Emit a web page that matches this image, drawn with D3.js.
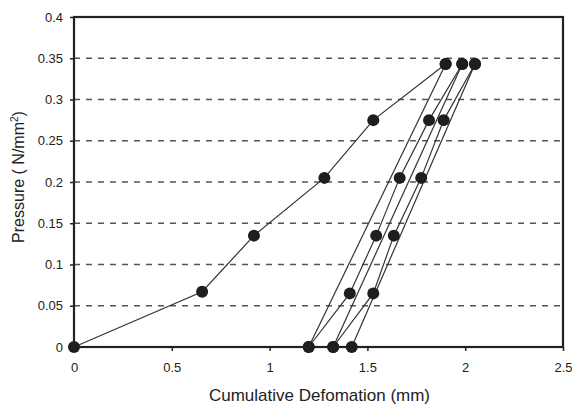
<!DOCTYPE html>
<html><head><meta charset="utf-8">
<script src="https://cdn.jsdelivr.net/npm/d3@7"></script>
<style>
html,body{margin:0;padding:0;background:#fff;}
svg{display:block;font-family:"Liberation Sans",Arial,sans-serif;}
</style></head>
<body>
<svg id="chart" width="572" height="411"></svg>
<script>
// ---- data ----
const xTicks = [0, 0.5, 1, 1.5, 2, 2.5];
const yTicks = [0, 0.05, 0.1, 0.15, 0.2, 0.25, 0.3, 0.35, 0.4];
const gridValues = [0.05, 0.1, 0.15, 0.2, 0.25, 0.3, 0.35];

const loadX   = [0, 0.655, 0.92, 1.28, 1.53, 1.90];
const loadY   = [0, 0.067, 0.135, 0.205, 0.275, 0.343];
const unload1X = [1.90, 1.20];
const unload1Y = [0.343, 0];
const reload1X = [1.20, 1.41, 1.545, 1.665, 1.815, 1.985];
const reload1Y = [0, 0.065, 0.135, 0.205, 0.275, 0.343];
const unload2X = [1.985, 1.325];
const unload2Y = [0.343, 0];
const reload2X = [1.325, 1.53, 1.635, 1.775, 1.89, 2.05];
const reload2Y = [0, 0.065, 0.135, 0.205, 0.275, 0.343];
const unload3X = [2.05, 1.42];
const unload3Y = [0.343, 0];

const xLabel = "Cumulative Defomation (mm)";

// ---- layout ----
const svg = d3.select("#chart");
const L = 74, R = 563, T = 17, B = 347;
const x = d3.scaleLinear().domain([0, 2.5]).range([L, R]);
const y = d3.scaleLinear().domain([0, 0.4]).range([B, T]);

// gridlines
svg.append("g").selectAll("line").data(gridValues).join("line")
  .attr("x1", L).attr("x2", R)
  .attr("y1", d => y(d)).attr("y2", d => y(d))
  .attr("stroke", "#555").attr("stroke-width", 1.3)
  .attr("stroke-dasharray", "6,6");

// axes
const fmt = d => d3.format("")(+d.toFixed(2));
const xAxis = svg.append("g").attr("transform", `translate(0,${B})`)
  .call(d3.axisBottom(x).tickValues(xTicks).tickFormat(fmt).tickSize(4).tickSizeOuter(0).tickPadding(12));
const yAxis = svg.append("g").attr("transform", `translate(${L},0)`)
  .call(d3.axisLeft(y).tickValues(yTicks).tickFormat(fmt).tickSize(4).tickSizeOuter(0).tickPadding(7));
[xAxis, yAxis].forEach(g => {
  g.select(".domain").remove();
  g.selectAll("line").attr("stroke", "#222").attr("stroke-width", 1.5);
  g.selectAll("text").attr("font-size", 13).attr("fill", "#222")
    .attr("font-family", "'Liberation Sans',Arial,sans-serif");
});

// frame
svg.append("rect").attr("x", L).attr("y", T).attr("width", R - L).attr("height", B - T)
  .attr("fill", "none").attr("stroke", "#222").attr("stroke-width", 2.2);

// curves
const series = [
  [loadX, loadY], [unload1X, unload1Y], [reload1X, reload1Y],
  [unload2X, unload2Y], [reload2X, reload2Y], [unload3X, unload3Y]
];
const line = d3.line().x(d => x(d[0])).y(d => y(d[1]));
series.forEach(([xs, ys]) => {
  svg.append("path").datum(xs.map((v, i) => [v, ys[i]]))
    .attr("d", line).attr("fill", "none").attr("stroke", "#333").attr("stroke-width", 1.2);
});
// markers
series.forEach(([xs, ys]) => {
  svg.append("g").selectAll("circle").data(xs.map((v, i) => [v, ys[i]])).join("circle")
    .attr("cx", d => x(d[0])).attr("cy", d => y(d[1])).attr("r", 6)
    .attr("fill", "#1e1e1e");
});

// axis titles
svg.append("text").attr("x", (L + R) / 2 + 1).attr("y", 401)
  .attr("text-anchor", "middle").attr("font-size", 17).attr("fill", "#222")
  .text(xLabel);
const yt = svg.append("text").attr("transform", `translate(24,${177}) rotate(-90)`)
  .attr("text-anchor", "middle").attr("font-size", 16).attr("fill", "#222");
yt.append("tspan").text("Pressure ( N/mm");
yt.append("tspan").attr("font-size", 10).attr("dy", -6).text("2");
yt.append("tspan").attr("dy", 6).text(")");
</script>
</body></html>
